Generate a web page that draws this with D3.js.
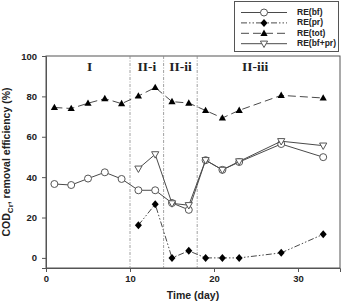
<!DOCTYPE html>
<html><head><meta charset="utf-8">
<script src="https://cdn.jsdelivr.net/npm/d3@7"></script>
<style>body{margin:0;background:#fff}svg{display:block}</style>
</head><body><svg id="c" width="346" height="301"></svg>
<script>
const daysAll = [1,3,5,7,9,11,13,15,17,19,21,23,28,33];
const daysII = [11,13,15,17,19,21,23,28,33];
const reBf = [36.6,36.1,39.3,42.4,39.1,33.5,33.5,27.2,23.8,48.4,43.6,47.5,56.4,49.9];
const rePr = [16.2,26.6,0,3.5,0,0,0,2.5,11.7];
const reTot = [74.5,74.0,76.6,78.9,76.4,80.2,84.4,77.4,76.7,73.0,69.3,73.1,80.5,79.2];
const reBfPr = [44.2,51.3,27.0,26.1,48.4,43.6,47.8,57.8,55.6];
const xTicks = [0,10,20,30];
const yTicks = [0,20,40,60,80,100];
const phaseBounds = [10,14,18];
const phases = [{name:"I",x:5.2},{name:"II-i",x:12},{name:"II-ii",x:16},{name:"II-iii",x:24.9}];
const seriesNames = ["RE(bf)","RE(pr)","RE(tot)","RE(bf+pr)"];

const svg = d3.select("#c");
const L=46, R=340, T=56, B=268;
const x = d3.scaleLinear().domain([0,35]).range([L,R]);
const y = d3.scaleLinear().domain([-5,100]).range([B,T]);
const lineCol = "#4a4a4a";
const font = "Liberation Sans, Arial, sans-serif";

// frame
svg.append("rect").attr("x",L).attr("y",T).attr("width",R-L).attr("height",B-T)
  .attr("fill","none").attr("stroke","#555").attr("stroke-width",1);

// axes
const xa = svg.append("g").attr("transform",`translate(0,${B})`)
  .call(d3.axisBottom(x).tickValues(xTicks).tickSize(4).tickPadding(3).tickFormat(d3.format("d")));
const ya = svg.append("g").attr("transform",`translate(${L},0)`)
  .call(d3.axisLeft(y).tickValues(yTicks).tickSize(4).tickPadding(5).tickFormat(d3.format("d")));
[xa,ya].forEach(a=>{
  a.select(".domain").attr("stroke","#555");
  a.selectAll(".tick line").attr("stroke","#555");
  a.selectAll("text").attr("font-family",font).attr("font-weight","bold").attr("font-size",9.5).attr("fill","#222");
});

// phase boundaries
phaseBounds.forEach(b=>{
  svg.append("line").attr("x1",x(b)).attr("x2",x(b)).attr("y1",T).attr("y2",B)
    .attr("stroke","#888").attr("stroke-width",0.8).attr("stroke-dasharray","3,1.5,1,1.5");
});
phases.forEach(p=>{
  svg.append("text").attr("x",x(p.x)).attr("y",y(94)).attr("text-anchor","middle")
    .attr("dominant-baseline","middle")
    .attr("font-family","Liberation Serif, Times New Roman, serif").attr("font-weight","bold")
    .attr("font-size",13.5).attr("fill","#222").text(p.name);
});

const line = d3.line().x(d=>x(d[0])).y(d=>y(d[1]));
function series(days, vals, dash, marker){
  const pts = days.map((d,i)=>[d,vals[i]]);
  svg.append("path").datum(pts).attr("d",line).attr("fill","none")
    .attr("stroke",lineCol).attr("stroke-width",1).attr("stroke-dasharray",dash);
  const g = svg.append("g");
  pts.forEach(p=>drawMarker(g, x(p[0]), y(p[1]), marker));
}
function drawMarker(g, cx, cy, m){
  if(m==="circle") g.append("circle").attr("cx",cx).attr("cy",cy).attr("r",3.5)
      .attr("fill","#fff").attr("stroke","#555").attr("stroke-width",1);
  else if(m==="diamond") g.append("path").attr("d",`M${cx},${cy-4}L${cx+3.5},${cy}L${cx},${cy+4}L${cx-3.5},${cy}Z`).attr("fill","#000");
  else if(m==="tri") g.append("path").attr("d",`M${cx},${cy-3.8}L${cx+3.6},${cy+2.6}L${cx-3.6},${cy+2.6}Z`).attr("fill","#000");
  else if(m==="tridown") g.append("path").attr("d",`M${cx-3.6},${cy-2.6}L${cx+3.6},${cy-2.6}L${cx},${cy+3.8}Z`)
      .attr("fill","#fff").attr("stroke","#555").attr("stroke-width",1);
}
const styles = [
  {days:daysAll, vals:reBf, dash:null, m:"circle"},
  {days:daysII, vals:rePr, dash:"6,2,1.5,2,1.5,2", m:"diamond"},
  {days:daysAll, vals:reTot, dash:"8,4", m:"tri"},
  {days:daysII, vals:reBfPr, dash:null, m:"tridown"}
];
styles.forEach(s=>series(s.days,s.vals,s.dash,s.m));

// legend
svg.append("rect").attr("x",234.5).attr("y",1.5).attr("width",104).attr("height",50)
  .attr("fill","#fff").attr("stroke","#555").attr("stroke-width",1);
seriesNames.forEach((n,i)=>{
  const yy = 12.5 + i*10.4;
  svg.append("line").attr("x1",241).attr("x2",287).attr("y1",yy).attr("y2",yy)
    .attr("stroke",lineCol).attr("stroke-width",1).attr("stroke-dasharray",styles[i].dash);
  drawMarker(svg, 264, yy, styles[i].m);
  svg.append("text").attr("x",297).attr("y",yy).attr("dominant-baseline","middle")
    .attr("font-family",font).attr("font-weight","bold").attr("font-size",8.5).attr("fill","#222").text(n);
});

// axis labels
svg.append("text").attr("x",(L+R)/2).attr("y",299).attr("text-anchor","middle")
  .attr("font-family",font).attr("font-weight","bold").attr("font-size",10.5).attr("fill","#222").text("Time (day)");
const yl = svg.append("text").attr("transform",`translate(10,${(T+B)/2}) rotate(-90)`).attr("text-anchor","middle")
  .attr("font-family",font).attr("font-weight","bold").attr("font-size",10.5).attr("fill","#222");
yl.append("tspan").text("COD");
yl.append("tspan").attr("font-size",8).attr("dy",2.5).text("Cr");
yl.append("tspan").attr("dy",-2.5).text(", removal efficiency (%)");
</script></body></html>
